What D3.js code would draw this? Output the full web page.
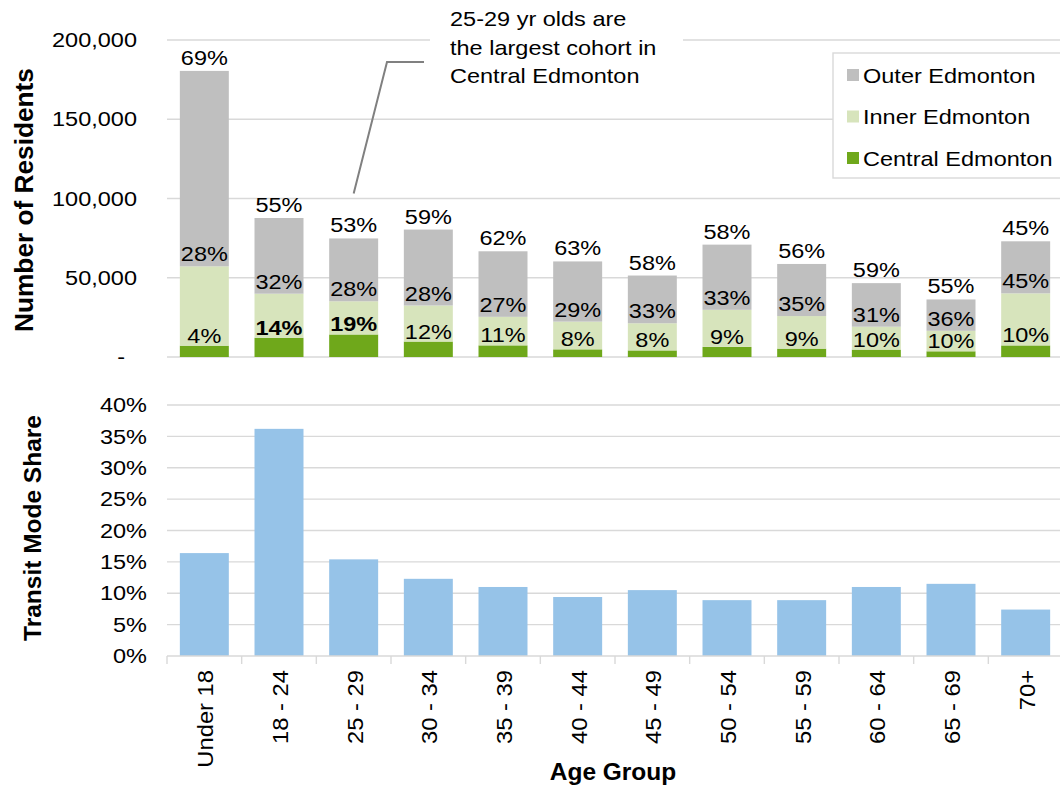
<!DOCTYPE html>
<html>
<head>
<meta charset="utf-8">
<script src="https://cdn.jsdelivr.net/npm/d3@7"></script>
<style>
  html, body { margin: 0; padding: 0; background: #fff; }
  svg { display: block; font-family: "Liberation Sans", Arial, sans-serif; }
</style>
</head>
<body>
<svg id="chart" width="1060" height="787"></svg>
<script>
// ---- data ----
const ageGroups = ["Under 18", "18 - 24", "25 - 29", "30 - 34", "35 - 39", "40 - 44",
                   "45 - 49", "50 - 54", "55 - 59", "60 - 64", "65 - 69", "70+"];
const totalResidents = [180500, 87700, 74800, 80400, 66700, 60300,
                        51400, 70900, 58700, 46600, 36300, 73000];
const outerShare   = [69, 55, 53, 59, 62, 63, 58, 58, 56, 59, 55, 45];
const innerShare   = [28, 32, 28, 28, 27, 29, 33, 33, 35, 31, 36, 45];
const centralShare = [4, 14, 19, 12, 11, 8, 8, 9, 9, 10, 10, 10];
const highlightedGroups = ["18 - 24", "25 - 29"];
const transitShare = [16.4, 36.2, 15.4, 12.3, 11.0, 9.4, 10.5, 8.9, 8.9, 11.0, 11.5, 7.4];
const residentTicks = [0, 50000, 100000, 150000, 200000];
const shareTicks = [0, 5, 10, 15, 20, 25, 30, 35, 40];
const seriesNames = ["Outer Edmonton", "Inner Edmonton", "Central Edmonton"];
const calloutLines = ["25-29 yr olds are", "the largest cohort in", "Central Edmonton"];

// ---- styling ----
const colors = { outer: "#bfbfbf", inner: "#d7e4bc", central: "#6fa81b", transit: "#96c3e8" };
const gridColor = "#d9d9d9";
const SX = 1.12;       // horizontal stretch used for the regular label face
const FS = 21;         // regular label size

const svg = d3.select("#chart");

// Segment values per age group; the shares are normalised so the stack adds to the total.
const rows = ageGroups.map((g, i) => {
  const sum = outerShare[i] + innerShare[i] + centralShare[i];
  return {
    group: g,
    central: totalResidents[i] * centralShare[i] / sum,
    inner: totalResidents[i] * innerShare[i] / sum,
    outer: totalResidents[i] * outerShare[i] / sum,
    centralPct: centralShare[i], innerPct: innerShare[i], outerPct: outerShare[i]
  };
});

// ---- scales ----
const x = d3.scaleBand().domain(ageGroups).range([167, 1063])
  .paddingInner(0.344).paddingOuter(0.172);
const yTop = d3.scaleLinear().domain([0, 200000]).range([357, 40]);
const yBot = d3.scaleLinear().domain([0, 40]).range([656, 405]);
const gridRight = 1060;

function stretchedText(parent, px, py, txt, opts = {}) {
  const rot = opts.rotate ? ` rotate(${opts.rotate})` : "";
  return parent.append("text")
    .attr("transform", `translate(${px},${py})${rot} scale(${opts.sx || SX},1)`)
    .attr("text-anchor", opts.anchor || "middle")
    .attr("font-size", opts.size || FS)
    .attr("font-weight", opts.weight || "normal")
    .attr("fill", "#000")
    .text(txt);
}

// ================= TOP PANEL: residents =================
const residentsPanel = svg.append("g");

// gridlines
residentsPanel.append("g").selectAll("line").data(residentTicks).join("line")
  .attr("x1", 167).attr("x2", gridRight)
  .attr("y1", d => yTop(d)).attr("y2", d => yTop(d))
  .attr("stroke", gridColor).attr("stroke-width", 1.4);

// y axis labels
const yAxisTop = residentsPanel.append("g").attr("transform", "translate(137,0)")
  .call(d3.axisLeft(yTop).tickValues(residentTicks).tickSize(0).tickPadding(0)
    .tickFormat(d => d === 0 ? "-" : d3.format(",")(d)));
yAxisTop.select(".domain").remove();
yAxisTop.selectAll("text")
  .attr("font-size", FS).attr("font-family", "Liberation Sans, Arial, sans-serif")
  .attr("fill", "#000")
  .attr("x", d => d === 0 ? -12 / SX : 0)
  .attr("transform", `scale(${SX},1)`);

// stacked bars
const stack = d3.stack().keys(["central", "inner", "outer"])(rows);
const layerColor = { central: colors.central, inner: colors.inner, outer: colors.outer };
residentsPanel.append("g").selectAll("g").data(stack).join("g")
  .attr("fill", d => layerColor[d.key])
  .selectAll("rect").data(d => d).join("rect")
  .attr("x", d => x(d.data.group))
  .attr("width", x.bandwidth())
  .attr("y", d => yTop(d[1]))
  .attr("height", d => yTop(d[0]) - yTop(d[1]));

// share labels sitting on top of each segment
const labelLayer = residentsPanel.append("g");
const offsets = { central: 3, inner: 5, outer: 6 };
stack.forEach(layer => {
  layer.forEach(seg => {
    const r = seg.data;
    const pct = r[layer.key + "Pct"];
    const bold = layer.key === "central" && highlightedGroups.includes(r.group);
    stretchedText(labelLayer, x(r.group) + x.bandwidth() / 2, yTop(seg[1]) - offsets[layer.key],
      pct + "%", { weight: bold ? "bold" : "normal" });
  });
});

// y title
stretchedText(residentsPanel, 33, 200, "Number of Residents",
  { rotate: -90, size: 25, weight: "bold", sx: 1.05 });

// callout for the 25-29 cohort
const calloutIdx = ageGroups.indexOf("25 - 29");
const cx = x(ageGroups[calloutIdx]) + x.bandwidth() / 2;
const cy = yTop(totalResidents[calloutIdx]) - 45;
residentsPanel.append("rect").attr("x", 430).attr("y", 0).attr("width", 253).attr("height", 95)
  .attr("fill", "#fff");
residentsPanel.append("path")
  .attr("d", `M${cx},${cy} L387,62 L424,62`)
  .attr("fill", "none").attr("stroke", "#808080").attr("stroke-width", 2);
calloutLines.forEach((t, i) => {
  stretchedText(residentsPanel, 450, 26 + i * 28.5, t, { anchor: "start" });
});

// legend
const legend = residentsPanel.append("g");
legend.append("rect").attr("x", 833).attr("y", 53).attr("width", 240).attr("height", 125)
  .attr("fill", "#fff").attr("stroke", gridColor).attr("stroke-width", 1.4);
const legendColors = [colors.outer, colors.inner, colors.central];
seriesNames.forEach((name, i) => {
  const cyL = 75 + i * 41.5;
  legend.append("rect").attr("x", 847).attr("y", cyL - 6).attr("width", 12).attr("height", 12)
    .attr("fill", legendColors[i]);
  stretchedText(legend, 863, cyL + 7.5, name, { anchor: "start" });
});

// ================= BOTTOM PANEL: transit mode share =================
const transitPanel = svg.append("g");

transitPanel.append("g").selectAll("line").data(shareTicks.filter(d => d > 0)).join("line")
  .attr("x1", 167).attr("x2", gridRight)
  .attr("y1", d => yBot(d)).attr("y2", d => yBot(d))
  .attr("stroke", gridColor).attr("stroke-width", 1.4);

const yAxisBot = transitPanel.append("g").attr("transform", "translate(147,0)")
  .call(d3.axisLeft(yBot).tickValues(shareTicks).tickSize(0).tickPadding(0)
    .tickFormat(d => d + "%"));
yAxisBot.select(".domain").remove();
yAxisBot.selectAll("text")
  .attr("font-size", FS).attr("font-family", "Liberation Sans, Arial, sans-serif")
  .attr("fill", "#000").attr("x", 0)
  .attr("transform", `scale(${SX},1)`);

transitPanel.append("g").selectAll("rect").data(ageGroups).join("rect")
  .attr("x", d => x(d))
  .attr("width", x.bandwidth())
  .attr("y", (d, i) => yBot(transitShare[i]))
  .attr("height", (d, i) => yBot(0) - yBot(transitShare[i]))
  .attr("fill", colors.transit);

// x axis with category boundary ticks
const xAxis = transitPanel.append("g").attr("transform", `translate(0,${yBot(0)})`)
  .call(d3.axisBottom(x).tickSize(0).tickPadding(0));
xAxis.select(".domain").attr("stroke", gridColor).attr("stroke-width", 1.4)
  .attr("d", `M167,0H${gridRight}`);
xAxis.selectAll(".tick text")
  .attr("font-size", 22).attr("font-family", "Liberation Sans, Arial, sans-serif")
  .attr("fill", "#000")
  .attr("text-anchor", "end")
  .attr("x", 0).attr("y", 0).attr("dy", 0)
  .attr("transform", "translate(9,14) rotate(-90) scale(1.08,1)");
const boundaries = d3.range(ageGroups.length + 1).map(i => x.range()[0] + i * x.step());
xAxis.append("g").selectAll("line").data(boundaries).join("line")
  .attr("x1", d => d).attr("x2", d => d).attr("y1", 0).attr("y2", 8)
  .attr("stroke", gridColor).attr("stroke-width", 1.4);

stretchedText(transitPanel, 41, 528, "Transit Mode Share",
  { rotate: -90, size: 24, weight: "bold", sx: 1.02 });
stretchedText(transitPanel, 613, 780, "Age Group", { size: 24, weight: "bold", sx: 1.02 });
</script>
</body>
</html>
